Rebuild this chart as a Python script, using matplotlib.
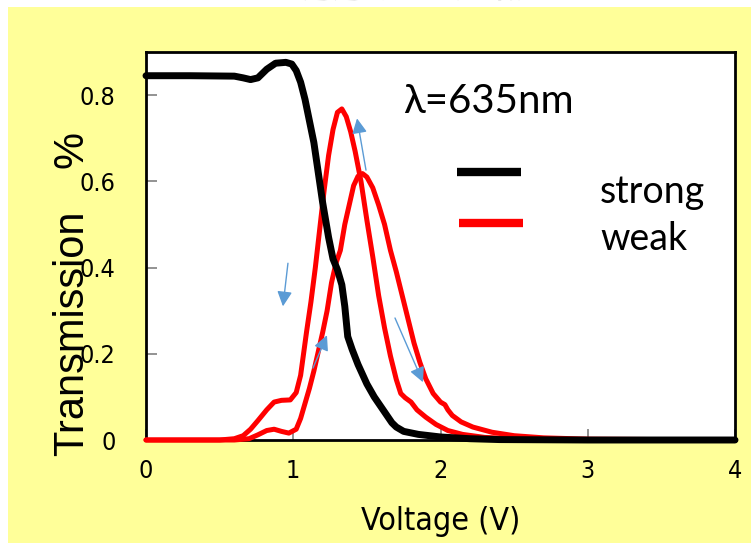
import matplotlib.pyplot as plt
from matplotlib.patches import Rectangle
from matplotlib import font_manager

v_strong = [0, 0.3, 0.6, 0.66, 0.71, 0.76, 0.82, 0.88, 0.95, 0.99, 1.02, 1.05, 1.08,
            1.11, 1.14, 1.17, 1.20, 1.24, 1.27, 1.30, 1.33, 1.35, 1.37, 1.40, 1.44,
            1.50, 1.55, 1.60, 1.64, 1.67, 1.70, 1.75, 1.85, 2.0, 2.2, 2.4, 3.0, 4.0]
t_strong = [0.845, 0.845, 0.844, 0.840, 0.836, 0.840, 0.860, 0.874, 0.876, 0.872,
            0.857, 0.83, 0.79, 0.74, 0.69, 0.62, 0.55, 0.47, 0.42, 0.395, 0.36,
            0.31, 0.24, 0.21, 0.175, 0.13, 0.10, 0.075, 0.055, 0.04, 0.03, 0.02,
            0.013, 0.007, 0.003, 0.001, 0, 0]

v_weak_a = [0, 0.5, 0.6, 0.66, 0.71, 0.76, 0.82, 0.87, 0.92, 0.98, 1.02, 1.05, 1.07,
            1.09, 1.12, 1.15, 1.18, 1.21, 1.24, 1.27, 1.30, 1.33, 1.36, 1.39, 1.42,
            1.46, 1.50, 1.54, 1.58, 1.62, 1.66, 1.70, 1.73, 1.76, 1.80, 1.84, 1.90,
            1.97, 2.05, 2.15, 2.3, 2.5, 2.8, 3.2, 4.0]
t_weak_a = [0, 0, 0.003, 0.01, 0.025, 0.045, 0.07, 0.088, 0.092, 0.093, 0.11, 0.15,
            0.2, 0.25, 0.32, 0.40, 0.49, 0.58, 0.66, 0.72, 0.76, 0.768, 0.75, 0.715,
            0.67, 0.6, 0.51, 0.425, 0.335, 0.26, 0.195, 0.14, 0.108, 0.098, 0.088,
            0.07, 0.053, 0.036, 0.022, 0.013, 0.006, 0.003, 0.001, 0, 0]

v_weak_b = [0, 0.6, 0.7, 0.76, 0.82, 0.87, 0.92, 0.97, 1.02, 1.05, 1.08, 1.11, 1.14,
            1.17, 1.20, 1.23, 1.26, 1.29, 1.32, 1.35, 1.38, 1.41, 1.44, 1.47, 1.50,
            1.54, 1.58, 1.62, 1.66, 1.70, 1.74, 1.78, 1.82, 1.86, 1.90, 1.95, 2.0,
            2.03, 2.05, 2.08, 2.14, 2.22, 2.35, 2.5, 2.7, 3.0, 4.0]
t_weak_b = [0, 0, 0.003, 0.012, 0.022, 0.025, 0.02, 0.016, 0.025, 0.05, 0.085, 0.12,
            0.16, 0.205, 0.25, 0.3, 0.365, 0.41, 0.44, 0.5, 0.545, 0.59, 0.612,
            0.618, 0.61, 0.585, 0.545, 0.50, 0.44, 0.39, 0.335, 0.28, 0.225, 0.18,
            0.142, 0.108, 0.088, 0.082, 0.07, 0.057, 0.042, 0.03, 0.018, 0.01,
            0.005, 0.002, 0]

# hysteresis arrows: (tail V, tail T, head V, head T)
arrows = [(0.964, 0.41, 0.93, 0.31),
          (1.134, 0.167, 1.229, 0.243),
          (1.494, 0.626, 1.433, 0.746),
          (1.691, 0.283, 1.881, 0.134)]

x_ticks = [0, 1, 2, 3, 4]
y_ticks = [0, 0.2, 0.4, 0.6, 0.8]
y_ticklabels = ["0", "0.2", "0.4", "0.6", "0.8"]

condensed = any(f.name == "DejaVu Sans" and f.stretch == "condensed"
                for f in font_manager.fontManager.ttflist)
tick_font = dict(family="DejaVu Sans", stretch="condensed") if condensed else dict(family="Liberation Sans")

fig = plt.figure(figsize=(7.51, 5.43), dpi=100)
fig.patch.set_facecolor("white")
fig.patches.append(Rectangle((8 / 751, 0), 1, 1 - 7 / 543, transform=fig.transFigure,
                             facecolor="#FFFF99", edgecolor="none", zorder=-10))
# title of the slide, cut off by the top edge (only the glyph bottoms show)
fig.text(150 / 751, 1 - 4 / 543, "液晶素子の透過特性と光偏光依存", fontsize=22,
         family=["Noto Sans CJK JP", "DejaVu Sans"], fontweight="bold",
         ha="left", va="bottom")

ax = fig.add_axes([146 / 751, 1 - 440 / 543, 589 / 751, 388 / 543])
ax.set_facecolor("white")

ax.plot(v_weak_a, t_weak_a, color="#FF0000", lw=3.6, solid_capstyle="round",
        solid_joinstyle="round", clip_on=False, zorder=3)
ax.plot(v_weak_b, t_weak_b, color="#FF0000", lw=3.6, solid_capstyle="round",
        solid_joinstyle="round", clip_on=False, zorder=3)
ax.plot(v_strong, t_strong, color="black", lw=5, solid_capstyle="round",
        solid_joinstyle="round", clip_on=False, zorder=4)

for x0, y0, x1, y1 in arrows:
    ax.annotate("", xy=(x1, y1), xytext=(x0, y0),
                arrowprops=dict(arrowstyle="-|>,head_length=0.9,head_width=0.45",
                                color="#5B9BD5", lw=1.0, shrinkA=0, shrinkB=0),
                zorder=5)

ax.set_xlim(0, 4)
ax.set_ylim(0, 0.9)
ax.set_xticks(x_ticks)
ax.set_yticks(y_ticks)
ax.set_yticklabels(y_ticklabels)
ax.tick_params(direction="in", length=8, width=1.2, color="#808080",
               labelsize=18)
ax.tick_params(axis="y", pad=22)
ax.tick_params(axis="x", pad=14)
for lab in ax.get_xticklabels() + ax.get_yticklabels():
    lab.set_family(tick_font["family"])
    if condensed:
        lab.set_fontstretch("condensed")

ax.set_xlabel("Voltage (V)", fontsize=23, labelpad=16, **tick_font)
for s in ax.spines.values():
    s.set_linewidth(2)
    s.set_color("black")

fig.text(72 / 751, 1 - 333 / 543, "Transmission", rotation=90, fontsize=30,
         family="Liberation Sans", ha="center", va="center", zorder=6)
fig.text(72 / 751, 1 - 149 / 543, "%", rotation=90, fontsize=30,
         family="Liberation Sans", ha="center", va="center", zorder=6)

# legend keys and labels
ax.plot([0.528, 0.637], [0.691, 0.691], transform=ax.transAxes, color="black",
        lw=6, solid_capstyle="butt")
ax.plot([0.531, 0.640], [0.559, 0.559], transform=ax.transAxes, color="#FF0000",
        lw=6, solid_capstyle="butt")
ax.text(0.436, 0.843, "λ=635nm", transform=ax.transAxes, fontsize=29,
        family="Lato", va="baseline")
ax.text(0.771, 0.611, "strong", transform=ax.transAxes, fontsize=27,
        family="Lato", va="baseline")
ax.text(0.771, 0.49, "weak", transform=ax.transAxes, fontsize=27,
        family="Lato", va="baseline")

fig.savefig("out.png", dpi=100)
